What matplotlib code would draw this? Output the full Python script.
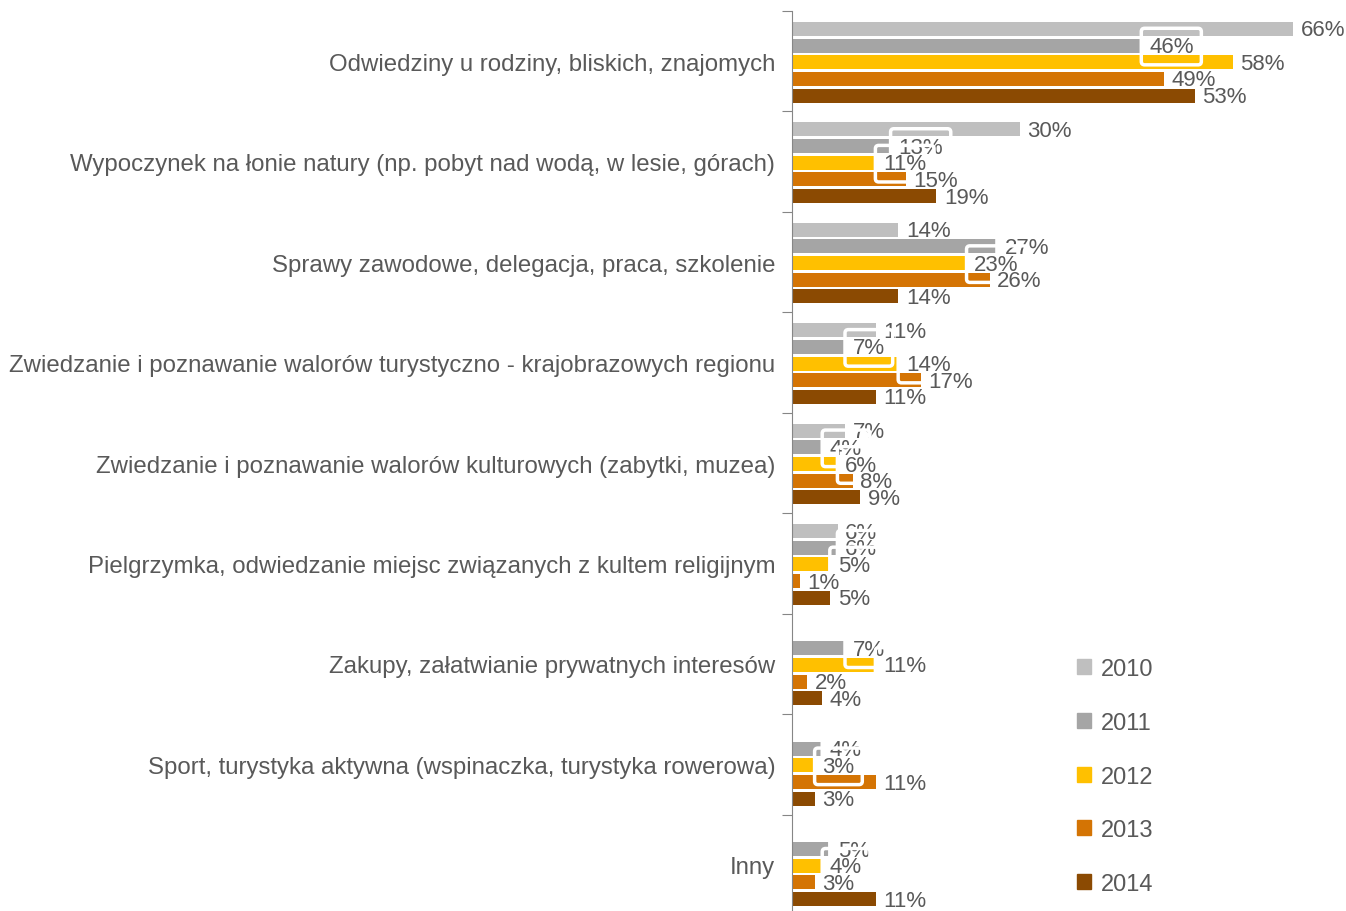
import numpy as np
import matplotlib.pyplot as plt
from matplotlib.patches import Patch

plt.rcParams['font.family'] = ['Liberation Sans Narrow', 'Liberation Sans', 'DejaVu Sans']

categories = [
    'Odwiedziny u rodziny, bliskich, znajomych',
    'Wypoczynek na łonie natury (np. pobyt nad wodą, w lesie, górach)',
    'Sprawy zawodowe, delegacja, praca, szkolenie',
    'Zwiedzanie i poznawanie walorów turystyczno - krajobrazowych regionu',
    'Zwiedzanie i poznawanie walorów kulturowych (zabytki, muzea)',
    'Pielgrzymka, odwiedzanie miejsc związanych z kultem religijnym',
    'Zakupy, załatwianie prywatnych interesów',
    'Sport, turystyka aktywna (wspinaczka, turystyka rowerowa)',
    'Inny',
]
years = ['2010', '2011', '2012', '2013', '2014']
v2010 = [66, 30, 14, 11, 7, 6, np.nan, np.nan, np.nan]
v2011 = [46, 13, 27, 7, 4, 6, 7, 4, 5]
v2012 = [58, 11, 23, 14, 6, 5, 11, 3, 4]
v2013 = [49, 15, 26, 17, 8, 1, 2, 11, 3]
v2014 = [53, 19, 14, 11, 9, 5, 4, 3, 11]
series = [v2010, v2011, v2012, v2013, v2014]
colors = ['#bfbfbf', '#a5a5a5', '#ffc000', '#d47404', '#8b4a02']

txt = '#595959'
fig = plt.figure(figsize=(13.46, 9.12), dpi=100)
ax = fig.add_axes([792 / 1346, -4 / 912, 547 / 1346, 904 / 912])

y = np.arange(len(categories))
step = 0.166
h = 0.14
for j, (vals, c) in enumerate(zip(series, colors)):
    pos = y + (j - 2) * step + 0.01
    ax.barh(pos, vals, height=h, color=c)
    for p, v in zip(pos, vals):
        if np.isnan(v):
            continue
        # white outlined frames around some of the labels
        box = None
        if j == 1 or (j == 2 and p > 1):
            box = dict(boxstyle='round,pad=0.35,rounding_size=0.15', fc='none',
                       ec='white', lw=2.5)
        ax.text(v + 1.0, p + 0.01, f'{v:.0f}%', va='center', ha='left',
                fontsize=16, color=txt, bbox=box, zorder=5)

ax.set_xlim(0, 72)
ax.set_ylim(len(categories) - 0.5, -0.5)
ax.set_yticks(np.arange(len(categories) + 1) - 0.5)
ax.set_yticklabels([])
ax.set_yticks(y, minor=True)
ax.set_yticklabels(categories, minor=True, fontsize=17.3, color=txt)
ax.tick_params(axis='y', which='major', length=7.5, color='#868686', direction='out')
ax.tick_params(axis='y', which='minor', length=0, pad=12)
ax.set_xticks([])
for s in ['top', 'right', 'bottom']:
    ax.spines[s].set_visible(False)
ax.spines['left'].set_color('#868686')

handles = [Patch(color=c, label=yr) for c, yr in zip(colors, years)]
fig.legend(handles=handles, loc='upper left', bbox_to_anchor=(1056 / 1346, 1 - 638 / 912),
           frameon=False, fontsize=17, labelcolor=txt, handlelength=0.6,
           handleheight=0.6, handletextpad=0.4, labelspacing=1.34)

fig.savefig('out.png', dpi=100)
